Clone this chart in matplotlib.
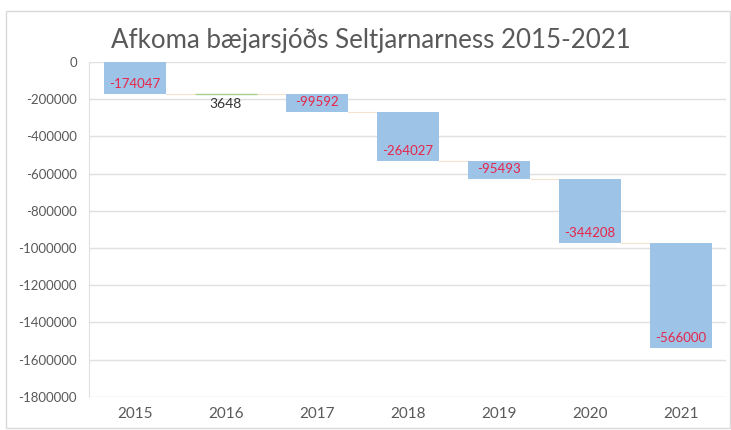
import matplotlib
matplotlib.use("Agg")
import matplotlib.pyplot as plt
from matplotlib.patches import Rectangle
import numpy as np

years = ["2015", "2016", "2017", "2018", "2019", "2020", "2021"]
changes = [-174047, 3648, -99592, -264027, -95493, -344208, -566000]
yticks = [0, -200000, -400000, -600000, -800000, -1000000, -1200000, -1400000, -1600000, -1800000]

plt.rcParams['font.family'] = ['Lato', 'DejaVu Sans']

fig = plt.figure(figsize=(7.31, 4.30), dpi=100)
fig.patch.set_facecolor('white')
fig.add_artist(Rectangle((0.008, 0.005), 0.99, 0.97, transform=fig.transFigure,
                         fill=False, edgecolor='#d9d9d9', lw=1.0))
ax = fig.add_axes([0.1224, 0.077, 0.8714, 0.779])

x = np.arange(len(years))
ends = np.cumsum(changes)
starts = ends - np.array(changes)
bottoms = np.minimum(starts, ends)
heights = np.abs(changes)
colors = ['#9dc3e6' if c < 0 else '#a9d18e' for c in changes]
w = 0.68
bars = ax.bar(x, heights, bottom=bottoms, width=w, color=colors, edgecolor='none', zorder=3)
for b, c in zip(bars, changes):
    if c > 0:
        b.set_edgecolor('#a9d18e')
        b.set_linewidth(1.0)

# connector lines
for i in range(len(x) - 1):
    ax.plot([x[i] + w / 2, x[i + 1] - w / 2], [ends[i], ends[i]], color='#f4e3cf', lw=0.8, zorder=2)

for i, c in enumerate(changes):
    if c < 0:
        ax.annotate(str(c), (x[i], ends[i]), xytext=(0, 3), textcoords='offset points',
                    ha='center', va='bottom', color='#e8254b', fontsize=9.5, zorder=4)
    else:
        ax.annotate(str(c), (x[i], starts[i]), xytext=(0, -3), textcoords='offset points',
                    ha='center', va='top', color='#333333', fontsize=10, zorder=4)

ax.set_ylim(-1800000, 0)
ax.set_xlim(-0.5, len(years) - 0.5)
ax.set_yticks(yticks)
ax.set_yticklabels([str(v) for v in yticks])
ax.set_xticks(x)
ax.set_xticklabels(years)
ax.tick_params(axis='both', length=0, colors='#595959', labelsize=9.5)
ax.tick_params(axis='y', pad=9)
ax.tick_params(axis='x', labelsize=11, pad=7)
ax.grid(axis='y', color='#e0e0e0', lw=1.0, zorder=0)
for s in ['top', 'right', 'bottom']:
    ax.spines[s].set_visible(False)
ax.spines['left'].set_color('#e0e0e0')

fig.text(0.508, 0.905, "Afkoma bæjarsjóðs Seltjarnarness 2015-2021", ha='center', va='center',
         fontsize=18.6, color='#595959')

fig.savefig("out.png", dpi=100)
